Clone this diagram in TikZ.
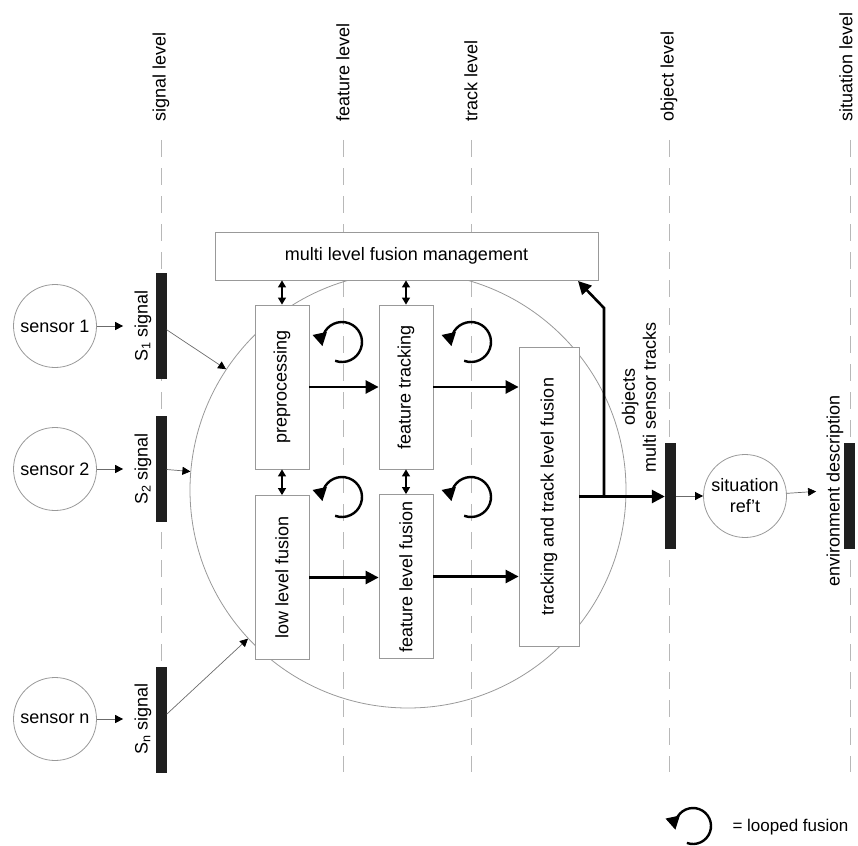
\documentclass[tikz,border=0pt]{standalone}
\usepackage{fontspec}
\setmainfont{Liberation Sans}
\usetikzlibrary{arrows.meta}
\definecolor{rulegray}{gray}{0.6}
\definecolor{dashgray}{gray}{0.72}

\begin{document}
\begin{tikzpicture}[x=1pt, y=-1pt,
  font=\fontsize{18}{21}\selectfont,
  levelline/.style={dashgray, line width=1pt, dash pattern=on 17pt off 11pt},
  lvltext/.style={rotate=90, anchor=west},
  box/.style={draw=rulegray, fill=white, line width=0.8pt},
  vbox/.style={box, rotate=90, minimum height=54, minimum width=164},
  bar/.style={fill=black!88, minimum width=11, minimum height=106, inner sep=0},
  ball/.style={draw=rulegray, line width=0.8pt, circle, minimum size=83, inner sep=0, align=center},
  sig/.style={rotate=90, anchor=south},
  sigarrow/.style={draw=rulegray!70!black, line width=0.7pt, -{Triangle[length=8pt, width=8pt, color=black]}},
  fatarrow/.style={draw=black, line width=2.6pt, -{Triangle[length=13pt, width=13pt]}},
  dblarrow/.style={draw=black, line width=1.3pt, {Triangle[length=7pt, width=8pt]}-{Triangle[length=7pt, width=8pt]}},
  looparrow/.style={draw=black, line width=2.4pt, -{Triangle[length=13pt, width=14pt]}}]
  \useasboundingbox (0,0) rectangle (858,845);

  % levels
  \draw[levelline] (161,140) -- (161,772);
  \draw[levelline] (343,140) -- (343,772);
  \draw[levelline] (471,140) -- (471,772);
  \draw[levelline] (669,140) -- (669,772);
  \draw[levelline] (850,140) -- (850,772);
  \node[lvltext] (tsig) at (161,125) {signal level};
  \node[lvltext] (tfeat) at (343,125) {feature level};
  \node[lvltext] (ttrack) at (471,125) {track level};
  \node[lvltext] (tobj) at (669,125) {object level};
  \node[lvltext] (tsit) at (846,125) {situation level};

  % fusion circle and boxes
  \node[draw=rulegray, line width=0.8pt, circle, minimum size=436] (fuse) at (408,490) {};
  \node[box, minimum width=383, minimum height=48] (mgmt) at (406.5,256) {multi level fusion management};
  \node[vbox] (pre) at (282,387) {preprocessing};
  \node[vbox] (ftrack) at (406,387) {feature tracking};
  \node[vbox] (low) at (282,577.5) {low level fusion};
  \node[vbox] (ffus) at (406,576.5) {feature level fusion};
  \node[box, rotate=90, minimum width=299, minimum height=60] (track) at (549,496.5) {tracking and track level fusion};

  % sensors
  \node[ball] (s1) at (55,326) {sensor 1};
  \node[ball] (s2) at (55,469) {sensor 2};
  \node[ball] (sn) at (55,719) {sensor n};
  \node[sig] (s1lbl) at (155,326) {S\textsubscript{1} signal};
  \node[sig] (s2lbl) at (155,469) {S\textsubscript{2} signal};
  \node[sig] (snlbl) at (155,719) {S\textsubscript{n} signal};
  \node[bar] (s1bar) at (161,326) {};
  \node[bar] (s2bar) at (161,469) {};
  \node[bar] (snbar) at (161,719.5) {};
  \draw[sigarrow, shorten >=8pt] (s1) -- (s1lbl.north);
  \draw[sigarrow, shorten >=8pt] (s2) -- (s2lbl.north);
  \draw[sigarrow, shorten >=8pt] (sn) -- (snlbl.north);
  \draw[sigarrow] (s1bar) -- (fuse);
  \draw[sigarrow] (s2bar) -- (fuse);
  \draw[sigarrow] (snbar) -- (fuse);

  % management links
  \draw[dblarrow] (pre.east) -- (pre.east |- mgmt.south);
  \draw[dblarrow] (ftrack.east) -- (ftrack.east |- mgmt.south);
  \draw[dblarrow] (pre.west) -- (low.east);
  \draw[dblarrow] (ftrack.west) -- (ffus.east);

  % data flow
  \draw[fatarrow] (pre.south) -- (ftrack.north);
  \draw[fatarrow] (low.south) -- (low.south -| ffus.north);
  \draw[fatarrow] (ftrack.south) -- (ftrack.south -| track.north);
  \draw[fatarrow] (ffus.south) -- (ffus.south -| track.north);

  % looped fusion
  \draw[looparrow] (342,342) ++(110:20) arc[start angle=110, end angle=-192, radius=20];
  \draw[looparrow] (471,342) ++(110:20) arc[start angle=110, end angle=-192, radius=20];
  \draw[looparrow] (342,497) ++(110:20) arc[start angle=110, end angle=-192, radius=20];
  \draw[looparrow] (471,497) ++(110:20) arc[start angle=110, end angle=-192, radius=20];

  % objects and situation
  \node[bar] (objbar) at (670.5,496) {};
  \node[rotate=90, anchor=west, align=center] (objlbl) at (639,476) {objects\\multi sensor tracks};
  \node[ball] (sit) at (745,496) {situation\\ref’t};
  \node[rotate=90] (envlbl) at (835,491) {environment description};
  \node[bar] (envbar) at (849,496) {};
  \coordinate (br) at (604,496.5);
  \coordinate (bend) at (604,308);
  \coordinate (mgin) at (578,281);
  \draw[fatarrow] (track.south) -- (track.south -| objbar.west);
  \draw[fatarrow] (br) -- (bend) -- (mgin);
  \draw[sigarrow] (objbar) -- (sit);
  \draw[sigarrow, shorten >=7pt] (sit) -- (envlbl.north);

  % legend
  \draw[looparrow] (693,826) ++(110:18) arc[start angle=110, end angle=-192, radius=18];
  \node[anchor=west, font=\fontsize{17}{20}\selectfont] (legend) at (729,827) {= looped fusion};
\end{tikzpicture}
\end{document}
